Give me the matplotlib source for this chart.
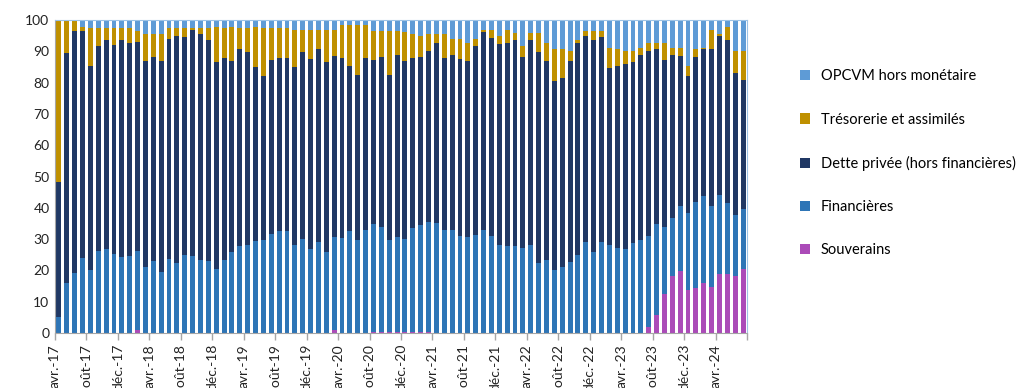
import numpy as np
import matplotlib.pyplot as plt
from matplotlib.patches import Patch

# months avr.-17 .. juil.-24 (88 bars)
mois = ["janv.", "févr.", "mars", "avr.", "mai", "juin",
        "juil.", "août", "sept.", "oct.", "nov.", "déc."]
categories = []
for k in range(88):
    m = (3 + k) % 12
    a = 17 + (3 + k) // 12
    categories.append(f"{mois[m]}-{a}")

souverains = [0, 0, 0, 0, 0, 0, 0, 0, 0, 0, 1.0, 0, 0, 0, 0, 0, 0, 0, 0, 0,
              0, 0, 0, 0, 0, 0, 0, 0, 0, 0, 0, 0, 0, 0, 0, 1.0, 0, 0, 0, 0,
              0.3, 0.3, 0.3, 0.3, 0.3, 0.3, 0.3, 0.3, 0, 0, 0, 0, 0, 0, 0, 0, 0, 0, 0, 0,
              0, 0, 0, 0, 0, 0, 0, 0, 0, 0, 0, 0, 0, 0, 0, 2.0, 5.9, 12.5, 18.2, 19.8,
              13.7, 14.4, 16.0, 14.8, 18.7, 18.7, 18.2, 20.4]
financieres = [5.0, 16.1, 19.3, 24.1, 20.1, 26.3, 26.8, 25.3, 24.4, 24.6, 25.3, 21.2, 23.0, 19.6, 23.5, 22.3, 24.9, 24.6, 23.3, 23.0,
               20.4, 23.4, 25.9, 27.8, 28.2, 29.3, 29.7, 31.6, 32.6, 32.7, 28.2, 30.1, 26.9, 29.2, 26.0, 29.8, 30.2, 32.6, 29.7, 33.0,
               34.5, 33.6, 29.4, 30.4, 29.7, 33.2, 34.2, 35.2, 35.0, 33.0, 32.9, 31.1, 30.7, 31.3, 32.9, 31.0, 28.1, 27.8, 27.8, 27.3,
               28.1, 22.5, 23.3, 20.1, 21.2, 22.6, 24.9, 29.1, 25.9, 29.1, 28.1, 27.3, 26.8, 28.8, 29.7, 29.1, 28.9, 21.4, 18.5, 20.8,
               24.6, 27.5, 27.8, 25.8, 25.4, 22.8, 19.5, 19.2]
dette_privee = [43.3, 73.2, 77.3, 72.5, 65.3, 65.5, 66.8, 66.7, 69.2, 68.1, 66.8, 65.7, 65.3, 67.3, 70.5, 72.6, 69.7, 72.2, 72.2, 70.6,
                66.2, 64.5, 61.0, 62.9, 61.6, 55.7, 52.4, 55.6, 55.3, 55.3, 56.9, 59.8, 60.5, 61.6, 60.5, 57.8, 57.8, 52.8, 52.7, 55.0,
                52.4, 54.3, 52.7, 58.1, 56.9, 54.4, 53.8, 54.6, 57.7, 54.9, 55.9, 56.3, 56.2, 60.4, 63.3, 63.2, 64.2, 64.9, 65.8, 61.0,
                65.5, 67.3, 63.6, 60.4, 60.4, 64.3, 67.8, 65.8, 67.7, 65.5, 56.6, 58.0, 59.1, 57.8, 59.1, 59.0, 55.9, 53.3, 52.1, 47.9,
                43.8, 46.3, 46.9, 50.1, 50.8, 52.1, 45.4, 41.2]
tresorerie = [51.7, 10.7, 3.4, 1.3, 12.1, 5.7, 3.9, 5.5, 3.9, 4.8, 3.5, 8.6, 7.2, 8.6, 3.3, 2.6, 2.9, 0.7, 2.0, 3.9,
              11.3, 9.6, 11.0, 6.8, 7.7, 12.9, 15.4, 10.3, 9.6, 9.3, 11.7, 6.9, 9.4, 6.0, 10.3, 8.2, 10.4, 13.0, 16.0, 10.4,
              9.3, 8.3, 14.1, 7.7, 9.2, 7.6, 6.6, 5.4, 2.8, 7.6, 5.1, 6.5, 5.8, 2.2, 0.6, 2.6, 2.6, 4.1, 2.2, 3.4,
              2.2, 6.0, 5.8, 10.2, 9.1, 3.2, 0.9, 1.6, 2.9, 1.9, 6.4, 5.4, 4.2, 3.5, 2.3, 2.5, 1.9, 5.4, 2.3, 2.6,
              3.2, 2.5, 0.3, 6.1, 0.6, 4.2, 7.0, 9.3]
opcvm = [0.0, 0.0, 0.0, 2.1, 2.5, 2.5, 2.5, 2.5, 2.5, 2.5, 3.4, 4.5, 4.5, 4.5, 2.7, 2.5, 2.5, 2.5, 2.5, 2.5,
         2.1, 2.5, 2.1, 2.5, 2.5, 2.1, 2.5, 2.5, 2.5, 2.7, 3.2, 3.2, 3.2, 3.2, 3.2, 3.2, 1.6, 1.6, 1.6, 1.6,
         3.5, 3.5, 3.5, 3.5, 3.9, 4.5, 5.1, 4.5, 4.5, 4.5, 6.1, 6.1, 7.3, 6.1, 3.2, 3.2, 5.1, 3.2, 4.2, 8.3,
         4.2, 4.2, 7.3, 9.3, 9.3, 9.9, 6.4, 3.5, 3.5, 3.5, 8.9, 9.3, 9.9, 9.9, 8.9, 7.4, 7.4, 7.4, 8.9, 8.9,
         14.7, 9.3, 9.0, 3.2, 4.5, 2.2, 9.9, 9.9]

series = [
    ("Souverains", souverains, "#AB4BB8"),
    ("Financières", financieres, "#2E75B6"),
    ("Dette privée (hors financières)", dette_privee, "#203864"),
    ("Trésorerie et assimilés", tresorerie, "#BF9000"),
    ("OPCVM hors monétaire", opcvm, "#5E9BD6"),
]

plt.rcParams['font.family'] = ['Lato', 'DejaVu Sans']

fig = plt.figure(figsize=(10.19, 3.88), dpi=100)
ax = fig.add_axes([55 / 1019, 55 / 388, 692 / 1019, 313 / 388])

x = np.arange(len(categories))
bottom = np.zeros(len(categories))
for name, vals, col in series:
    vals = np.array(vals)
    ax.bar(x, vals, width=0.62, bottom=bottom, color=col, label=name, linewidth=0)
    bottom += vals

ax.set_xlim(-0.5, len(categories) - 0.5)
ax.set_ylim(0, 100)
ax.set_yticks(range(0, 101, 10))
ax.tick_params(axis='y', length=0, labelsize=10, pad=4, colors='#222222')

tick_pos = list(np.arange(0, len(categories), 4) - 0.5) + [len(categories) - 0.5]
ax.set_xticks(tick_pos)
ax.set_xticklabels([categories[i] for i in range(0, len(categories), 4)] + [""],
                   rotation=90, ha='center', va='top', fontsize=10, color='#222222')
ax.tick_params(axis='x', length=5, width=1, color='#A6A6A6', pad=3)

for s in ['left', 'bottom']:
    ax.spines[s].set_color('#A6A6A6')
for s in ['top', 'right']:
    ax.spines[s].set_color('#9DC3E6')

handles = [Patch(facecolor=c, label=n) for n, v, c in series][::-1]
fig.legend(handles=handles, loc='upper left', bbox_to_anchor=(0.772, 0.855),
           frameon=False, fontsize=10.5, handlelength=0.7, handleheight=0.7,
           handletextpad=0.75, labelspacing=2.0)

fig.savefig('out.png', dpi=100)
